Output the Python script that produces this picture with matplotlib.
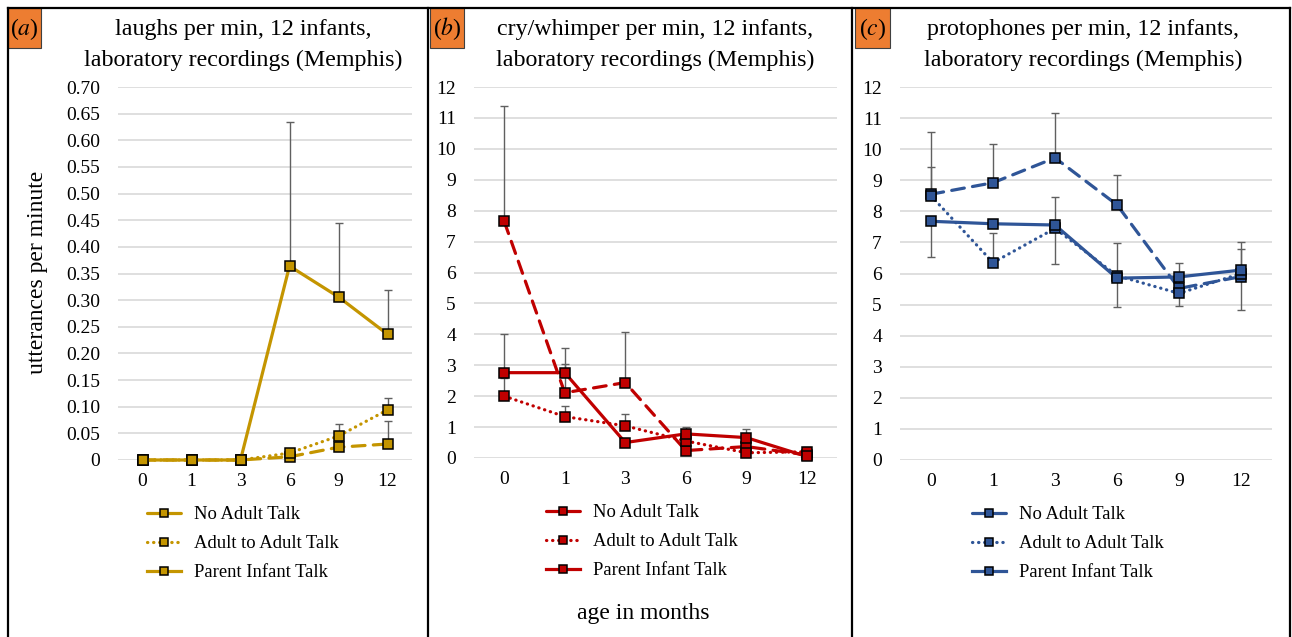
import matplotlib.pyplot as plt
from matplotlib.lines import Line2D
from matplotlib.patches import Rectangle

plt.rcParams["font.family"] = "Liberation Serif"
plt.rcParams["mathtext.fontset"] = "stix"

W, H = 1292, 637

ages = ["0", "1", "3", "6", "9", "12"]
series_names = ["No Adult Talk", "Adult to Adult Talk", "Parent Infant Talk"]

# (a) laughs per minute
laugh_none = [0, 0, 0, 0.006, 0.024, 0.030]
laugh_adult = [0, 0, 0, 0.013, 0.045, 0.094]
laugh_parent = [0, 0, 0, 0.364, 0.306, 0.236]
laugh_none_up = [0, 0, 0, 0, 0, 0.043]
laugh_adult_up = [0, 0, 0, 0, 0.023, 0.022]
laugh_parent_up = [0, 0, 0, 0.270, 0.139, 0.083]

# (b) cry/whimper per minute
cry_none = [7.65, 2.11, 2.44, 0.24, 0.37, 0.10]
cry_adult = [2.00, 1.34, 1.04, 0.55, 0.17, 0.20]
cry_parent = [2.76, 2.76, 0.50, 0.78, 0.66, 0.05]
cry_none_up = [3.75, 0.92, 1.63, 0, 0, 0]
cry_adult_up = [0.60, 0.34, 0.38, 0, 0, 0.17]
cry_parent_up = [1.25, 0.81, 0, 0.22, 0.28, 0]

# (c) protophones per minute
proto_none = [8.55, 8.92, 9.72, 8.21, 5.52, 5.90]
proto_adult = [8.50, 6.35, 7.45, 5.93, 5.36, 6.00]
proto_parent = [7.68, 7.60, 7.56, 5.85, 5.89, 6.11]
proto_none_up = [1.99, 1.24, 1.44, 0.96, 0.81, 1.11]
proto_adult_up = [0.92, 0.94, 1.02, 1.06, 0, 0.80]
proto_parent_down = [1.16, 0, 1.26, 0.94, 0.92, 1.28]

zeros = [0] * 6


def fbox(left, top, right, bottom):
    return [left / W, 1 - bottom / H, (right - left) / W, (bottom - top) / H]


def draw_panel(ax, vals, errs_lo, errs_up, color, ymax, step, fmt):
    x = list(range(len(ages)))
    styles = [(0, (4, 2.6)), (0, (0.1, 1.8)), "-"]
    handles = []
    for v, lo, up in zip(vals, errs_lo, errs_up):
        ax.errorbar(x, v, yerr=[lo, up], fmt="none", ecolor="#606060",
                    elinewidth=1, capsize=2.8, capthick=1, zorder=2, clip_on=False)
    for v, ls, name in zip(vals, styles, series_names):
        h, = ax.plot(x, v, color=color, lw=2.3, linestyle=ls,
                     dash_capstyle="round" if ls != "-" else "butt",
                     marker="s", markersize=7, markerfacecolor=color,
                     markeredgecolor="black", markeredgewidth=1.1,
                     zorder=3, clip_on=False, label=name)
        handles.append(h)
    ax.set_xlim(-0.5, len(ages) - 0.5)
    ax.set_ylim(0, ymax)
    ticks = [i * step for i in range(int(round(ymax / step)) + 1)]
    ax.set_yticks(ticks)
    ax.set_yticklabels(["0"] + [fmt.format(t) for t in ticks[1:]])
    ax.set_xticks(x)
    ax.set_xticklabels(ages)
    ax.tick_params(length=0, labelsize=14, colors="black")
    ax.tick_params(axis="y", pad=13)
    ax.tick_params(axis="x", pad=9)
    for s in ax.spines.values():
        s.set_visible(False)
    ax.grid(axis="y", color="#D9D9D9", lw=1.2)
    ax.set_axisbelow(True)
    return handles


fig = plt.figure(figsize=(W / 100, H / 100), dpi=100)

panels = [
    dict(box=(118, 87, 412, 460), vals=[laugh_none, laugh_adult, laugh_parent],
         lo=[zeros, zeros, zeros], up=[laugh_none_up, laugh_adult_up, laugh_parent_up],
         color="#C49500", ymax=0.70, step=0.05, fmt="{:.2f}",
         title=["laughs per min, 12 infants,", "laboratory recordings (Memphis)"],
         tx=243, tag="a", tagbox=(8, 41), leg=(147, 506)),
    dict(box=(474, 87, 837, 458), vals=[cry_none, cry_adult, cry_parent],
         lo=[zeros, zeros, zeros], up=[cry_none_up, cry_adult_up, cry_parent_up],
         color="#C00000", ymax=12, step=1, fmt="{:.0f}",
         title=["cry/whimper per min, 12 infants,", "laboratory recordings (Memphis)"],
         tx=655, tag="b", tagbox=(430, 464), leg=(546, 504)),
    dict(box=(900, 87, 1272, 460), vals=[proto_none, proto_adult, proto_parent],
         lo=[zeros, zeros, proto_parent_down], up=[proto_none_up, proto_adult_up, zeros],
         color="#2F5597", ymax=12, step=1, fmt="{:.0f}",
         title=["protophones per min, 12 infants,", "laboratory recordings (Memphis)"],
         tx=1083, tag="c", tagbox=(855, 890), leg=(972, 506)),
]

for p in panels:
    ax = fig.add_axes(fbox(*p["box"]))
    handles = draw_panel(ax, p["vals"], p["lo"], p["up"], p["color"],
                         p["ymax"], p["step"], p["fmt"])
    fig.text(p["tx"] / W, 1 - 30 / H, p["title"][0], ha="center", va="center", fontsize=17.3)
    fig.text(p["tx"] / W, 1 - 60 / H, p["title"][1], ha="center", va="center", fontsize=17.3)
    l, r = p["tagbox"]
    fig.add_artist(Rectangle((l / W, 1 - 48 / H), (r - l) / W, 40 / H,
                             transform=fig.transFigure, facecolor="#ED7D31",
                             edgecolor="#404040", lw=0.8))
    fig.text((l + r) / 2 / W, 1 - 29 / H, "($\\mathit{%s}$)" % p["tag"],
             ha="center", va="center", fontsize=17)
    lx, ly = p["leg"]
    fig.legend(handles=handles, loc="upper left",
               bbox_to_anchor=(lx / W, 1 - ly / H), bbox_transform=fig.transFigure,
               frameon=False, fontsize=13.4, handlelength=1.8, handletextpad=0.7,
               labelspacing=0.65, borderpad=0, borderaxespad=0, markerscale=0.8)

fig.text(38 / W, 1 - 272 / H, "utterances per minute", rotation=90,
         ha="center", va="center", fontsize=17)
fig.text(643 / W, 1 - 613 / H, "age in months", ha="center", va="center", fontsize=17)

# panel frames
lk = dict(color="black", lw=1.6, transform=fig.transFigure)
fig.add_artist(Line2D([8 / W, 1290 / W], [1 - 8 / H, 1 - 8 / H], **lk))
for xp in [8, 428, 852, 1290]:
    fig.add_artist(Line2D([xp / W, xp / W], [1 - 8 / H, 0], **lk))

fig.savefig("out.png", dpi=100, facecolor="white")
